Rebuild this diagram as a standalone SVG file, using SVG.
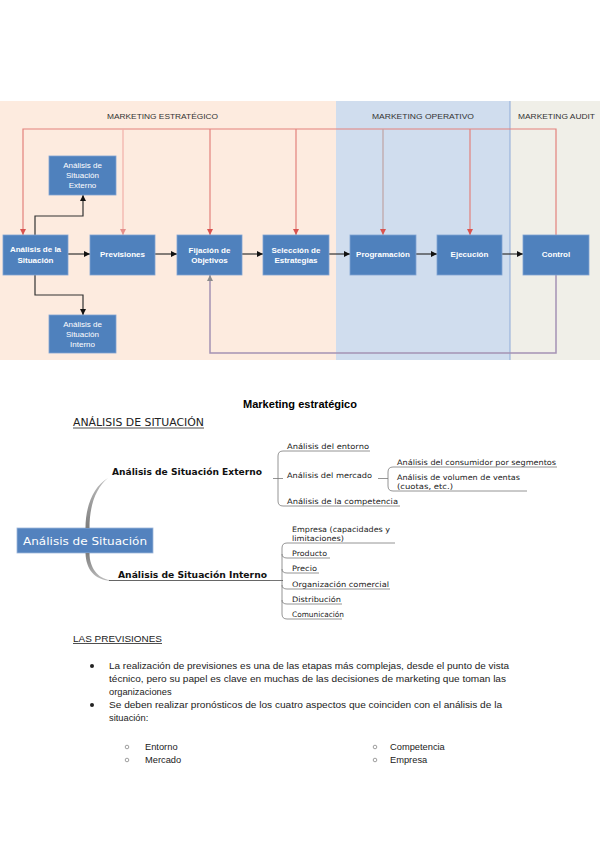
<svg xmlns="http://www.w3.org/2000/svg" width="600" height="848" viewBox="0 0 600 848">
<defs>
<style>
.box{fill:#4F81BD;stroke:#7FA3D3;stroke-width:0.8}
.bl{font-family:"Liberation Sans",Arial,sans-serif;font-size:8px;font-weight:bold;fill:#fff;text-anchor:middle}
.bs{font-family:"Liberation Sans",Arial,sans-serif;font-size:8px;fill:#fff;text-anchor:middle}
.sec{font-family:"Liberation Sans",Arial,sans-serif;font-size:8px;fill:#333}
.red{fill:none;stroke:#E3817C;stroke-width:1.2}
.blk{fill:none;stroke:#333;stroke-width:1.2}
.fb{fill:none;stroke:#A493B4;stroke-width:1.5}
.mm{font-family:"DejaVu Sans",Verdana,sans-serif;font-size:7.5px;fill:#222}
.mmb{font-family:"DejaVu Sans",Verdana,sans-serif;font-size:8.5px;font-weight:bold;fill:#111}
.ul{fill:none;stroke:#7a7a7a;stroke-width:0.8}
.body{font-family:"Liberation Sans",Arial,sans-serif;font-size:9.3px;fill:#222}
</style>
<linearGradient id="gc" x1="0" y1="0" x2="0" y2="1"><stop offset="0" stop-color="#bdbdbd"/><stop offset="1" stop-color="#7d7d7d"/></linearGradient>
<linearGradient id="gc2" x1="0" y1="0" x2="0" y2="1"><stop offset="0" stop-color="#7d7d7d"/><stop offset="1" stop-color="#bdbdbd"/></linearGradient>
<marker id="aR" viewBox="0 0 6 6" refX="6" refY="3" markerWidth="6" markerHeight="6" markerUnits="userSpaceOnUse" orient="auto"><path d="M0,0 L6,3 L0,6 Z" fill="#D9534F"/></marker>
<marker id="aP" viewBox="0 0 6 6" refX="6" refY="3" markerWidth="6" markerHeight="6" markerUnits="userSpaceOnUse" orient="auto"><path d="M0,0 L6,3 L0,6 Z" fill="#E58F8A"/></marker>
<marker id="aK" viewBox="0 0 6 6" refX="6" refY="3" markerWidth="6" markerHeight="6" markerUnits="userSpaceOnUse" orient="auto"><path d="M0,0 L6,3 L0,6 Z" fill="#111"/></marker>
<marker id="aG" viewBox="0 0 6 6" refX="6" refY="3" markerWidth="6" markerHeight="6" markerUnits="userSpaceOnUse" orient="auto"><path d="M0,0 L6,3 L0,6 Z" fill="#8C8C8C"/></marker>
</defs>
<rect width="600" height="848" fill="#fff"/>

<g id="lanes">
<rect x="0" y="101" width="336" height="259" fill="#FDEBDF"/>
<rect x="336" y="101" width="174" height="259" fill="#D0DDEE"/>
<rect x="510" y="101" width="90" height="259" fill="#F0EFE8"/>
<line x1="510" y1="101" x2="510" y2="360" stroke="#8EAAD8" stroke-width="1"/>
<text class="sec" x="107" y="119" textLength="111" lengthAdjust="spacingAndGlyphs">MARKETING ESTRATÉGICO</text>
<text class="sec" x="372" y="119" textLength="102" lengthAdjust="spacingAndGlyphs">MARKETING OPERATIVO</text>
<text class="sec" x="518" y="119" textLength="77" lengthAdjust="spacingAndGlyphs">MARKETING AUDIT</text>
</g>

<g id="connectors">
<path class="red" d="M556,235 V129 H23 V235" marker-end="url(#aR)"/>
<path d="M123,129 V235" fill="none" stroke="#F2AFA8" stroke-width="1.2" marker-end="url(#aP)"/>
<path class="red" d="M210,129 V235" marker-end="url(#aR)"/>
<path class="red" d="M296,129 V235" marker-end="url(#aR)"/>
<path d="M383,129 V235" fill="none" stroke="#BFA3A3" stroke-width="1.2" marker-end="url(#aR)"/>
<path class="red" d="M470,129 V235" marker-end="url(#aR)"/>
<path class="blk" d="M68,254 H90" marker-end="url(#aK)"/>
<path class="blk" d="M155,254 H177" marker-end="url(#aK)"/>
<path class="blk" d="M242,254 H263" marker-end="url(#aK)"/>
<path class="blk" d="M329,254 H350" marker-end="url(#aK)"/>
<path class="blk" d="M416,254 H437" marker-end="url(#aK)"/>
<path class="blk" d="M502,254 H523" marker-end="url(#aK)"/>
<path class="blk" d="M35,235 V216 H83 V195" stroke-width="1.5" marker-end="url(#aK)"/>
<path class="blk" d="M35,275 V295 H83 V315" stroke-width="1.5" marker-end="url(#aK)"/>
<path class="fb" d="M556,275 V353 H210 V275" marker-end="url(#aG)"/>
</g>

<g id="n-analisis"><rect class="box" x="3" y="235" width="65" height="40"/><text class="bl" x="35.5" y="252">Análisis de la</text><text class="bl" x="35.5" y="263">Situación</text></g>
<g id="n-externo"><rect class="box" x="49" y="156" width="67" height="39"/><text class="bs" x="82.5" y="168">Análisis de</text><text class="bs" x="82.5" y="178">Situación</text><text class="bs" x="82.5" y="188">Externo</text></g>
<g id="n-interno"><rect class="box" x="49" y="315" width="67" height="38"/><text class="bs" x="82.5" y="327">Análisis de</text><text class="bs" x="82.5" y="337">Situación</text><text class="bs" x="82.5" y="347">Interno</text></g>
<g id="n-previsiones"><rect class="box" x="90" y="235" width="65" height="40"/><text class="bl" x="122.5" y="257">Previsiones</text></g>
<g id="n-fijacion"><rect class="box" x="177" y="235" width="65" height="40"/><text class="bl" x="209.5" y="253">Fijación de</text><text class="bl" x="209.5" y="263">Objetivos</text></g>
<g id="n-seleccion"><rect class="box" x="263" y="235" width="66" height="40"/><text class="bl" x="296" y="253">Selección de</text><text class="bl" x="296" y="263">Estrategias</text></g>
<g id="n-programacion"><rect class="box" x="350" y="235" width="66" height="40"/><text class="bl" x="383" y="257">Programación</text></g>
<g id="n-ejecucion"><rect class="box" x="437" y="235" width="65" height="40"/><text class="bl" x="469.5" y="257">Ejecución</text></g>
<g id="n-control"><rect class="box" x="523" y="235" width="66" height="40"/><text class="bl" x="556" y="257">Control</text></g>

<text x="243" y="408" font-family="'Liberation Sans',Arial,sans-serif" font-size="10.5" font-weight="bold" fill="#000" textLength="114" lengthAdjust="spacingAndGlyphs">Marketing estratégico</text>
<text x="73" y="426" font-family="'DejaVu Sans',Verdana,sans-serif" font-size="11" fill="#222" textLength="131" lengthAdjust="spacingAndGlyphs">ANÁLISIS DE SITUACIÓN</text>
<line x1="73" y1="428" x2="204" y2="428" stroke="#222" stroke-width="0.8"/>

<g id="mm-center">
<rect x="17" y="528" width="136" height="25" fill="#5382BE" stroke="#9DB6DA" stroke-width="0.8"/>
<text x="23" y="545" font-family="'DejaVu Sans',Verdana,sans-serif" font-size="11" fill="#fff" textLength="124" lengthAdjust="spacingAndGlyphs">Análisis de Situación</text>
</g>
<g id="mm-branches">
<path d="M85.5,528 C85.5,505 94,486 108,478 C96,488 89.5,505 89.5,528 Z" fill="url(#gc)"/>
<path d="M85.5,553 C86,570 95,579.5 110,580.9 L110,580.1 C98,578.5 89.5,568 89.5,553 Z" fill="url(#gc2)"/>
<line x1="109" y1="580.5" x2="283" y2="580.5" stroke="#555" stroke-width="0.9"/>
<line x1="273" y1="478.5" x2="278" y2="478.5" stroke="#777" stroke-width="0.8"/>
<path class="ul" d="M283,451 Q278,451 278,456 L278,501 Q278,506 283,506"/>
<path class="ul" d="M283,451 H370"/>
<path class="ul" d="M278,478.5 H283"/>
<path class="ul" d="M283,506 H400"/>
<path class="ul" d="M378,478.5 H388"/>
<path class="ul" d="M393,467 Q388,467 388,472 L388,486 Q388,491 393,491"/>
<path class="ul" d="M393,467 H557"/>
<path class="ul" d="M393,491 H527"/>
<path class="ul" d="M270,580.5 H282"/>
<path class="ul" d="M287,543 Q282,543 282,548 L282,614 Q282,619 287,619"/>
<path class="ul" d="M287,543 H395"/>
<path class="ul" d="M282,554 Q282,558 287,558 H330"/>
<path class="ul" d="M282,569 Q282,573 287,573 H319"/>
<path class="ul" d="M282,585 Q282,589 287,589 H390"/>
<path class="ul" d="M282,600 Q282,604 287,604 H342"/>
<path class="ul" d="M287,619 H342"/>
</g>
<g id="mm-externo">
<text class="mmb" x="112" y="475" textLength="150" lengthAdjust="spacingAndGlyphs">Análisis de Situación Externo</text>
<text class="mm" x="287" y="449" textLength="82" lengthAdjust="spacingAndGlyphs">Análisis del entorno</text>
<text class="mm" x="287" y="478" textLength="85" lengthAdjust="spacingAndGlyphs">Análisis del mercado</text>
<text class="mm" x="287" y="504" textLength="111" lengthAdjust="spacingAndGlyphs">Análisis de la competencia</text>
<text class="mm" x="397" y="465" textLength="159" lengthAdjust="spacingAndGlyphs">Análisis del consumidor por segmentos</text>
<text class="mm" x="397" y="480" textLength="123" lengthAdjust="spacingAndGlyphs">Análisis de volumen de ventas</text>
<text class="mm" x="397" y="489" textLength="56" lengthAdjust="spacingAndGlyphs">(cuotas, etc.)</text>
</g>
<g id="mm-interno">
<text class="mmb" x="118" y="578" textLength="149" lengthAdjust="spacingAndGlyphs">Análisis de Situación Interno</text>
<text class="mm" x="292" y="532" textLength="98" lengthAdjust="spacingAndGlyphs">Empresa (capacidades y</text>
<text class="mm" x="292" y="541" textLength="52" lengthAdjust="spacingAndGlyphs">limitaciones)</text>
<text class="mm" x="292" y="556" textLength="35" lengthAdjust="spacingAndGlyphs">Producto</text>
<text class="mm" x="292" y="571" textLength="25" lengthAdjust="spacingAndGlyphs">Precio</text>
<text class="mm" x="292" y="587" textLength="97" lengthAdjust="spacingAndGlyphs">Organización comercial</text>
<text class="mm" x="292" y="602" textLength="49" lengthAdjust="spacingAndGlyphs">Distribución</text>
<text class="mm" x="292" y="617" textLength="52" lengthAdjust="spacingAndGlyphs">Comunicación</text>
</g>

<g id="previsiones-text">
<text class="body" x="73" y="642" textLength="89" lengthAdjust="spacingAndGlyphs">LAS PREVISIONES</text>
<line x1="73" y1="643.5" x2="162" y2="643.5" stroke="#222" stroke-width="0.8"/>
<circle cx="92" cy="666" r="2" fill="#222"/>
<text class="body" x="109" y="669" textLength="400" lengthAdjust="spacingAndGlyphs">La realización de previsiones es una de las etapas más complejas, desde el punto de vista</text>
<text class="body" x="109" y="682" textLength="397" lengthAdjust="spacingAndGlyphs">técnico, pero su papel es clave en muchas de las decisiones de marketing que toman las</text>
<text class="body" x="109" y="694.5">organizaciones</text>
<circle cx="92" cy="705" r="2" fill="#222"/>
<text class="body" x="109" y="708" textLength="393" lengthAdjust="spacingAndGlyphs">Se deben realizar pronósticos de los cuatro aspectos que coinciden con el análisis de la</text>
<text class="body" x="109" y="720.5">situación:</text>
<circle cx="127" cy="747" r="1.8" fill="none" stroke="#777" stroke-width="0.7"/>
<circle cx="127" cy="760" r="1.8" fill="none" stroke="#777" stroke-width="0.7"/>
<circle cx="375" cy="747" r="1.8" fill="none" stroke="#777" stroke-width="0.7"/>
<circle cx="375" cy="760" r="1.8" fill="none" stroke="#777" stroke-width="0.7"/>
<text class="body" x="145" y="750">Entorno</text>
<text class="body" x="145" y="763">Mercado</text>
<text class="body" x="390" y="750">Competencia</text>
<text class="body" x="390" y="763">Empresa</text>
</g>
</svg>
